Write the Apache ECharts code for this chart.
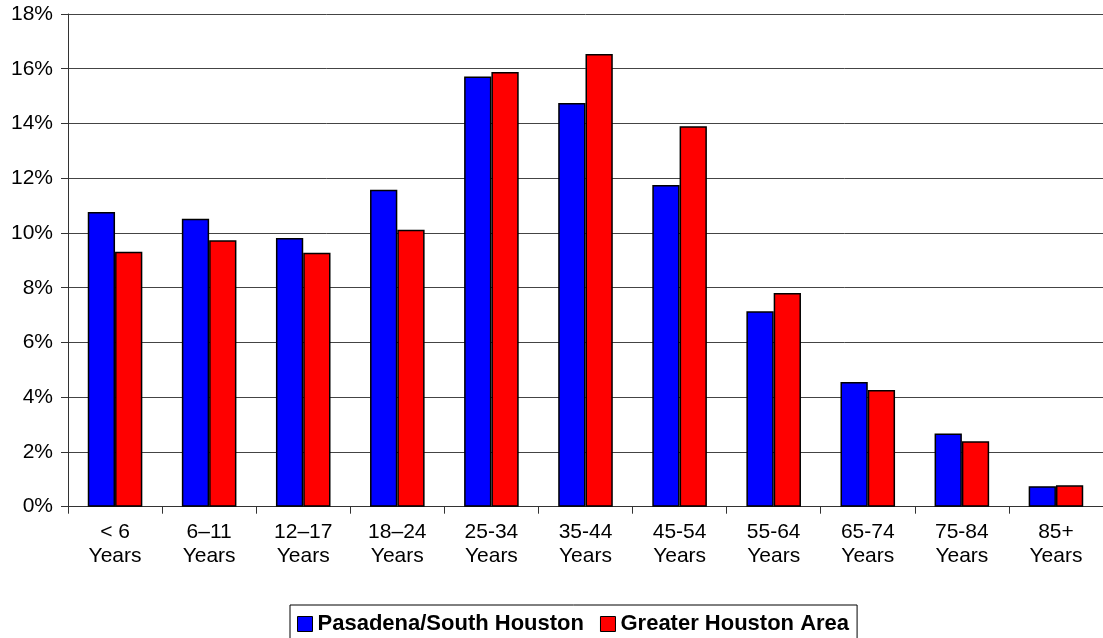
<!DOCTYPE html>
<html>
<head>
<meta charset="utf-8">
<script src="https://cdn.jsdelivr.net/npm/echarts@6/dist/echarts.min.js"></script>
<style>
html,body{margin:0;padding:0;background:#fff;}
#chart{width:1103px;height:638px;}
</style>
</head>
<body>
<div id="chart"></div>
<script>
var categories = ['< 6\nYears', '6\u201311\nYears', '12\u201317\nYears', '18\u201324\nYears', '25-34\nYears', '35-44\nYears', '45-54\nYears', '55-64\nYears', '65-74\nYears', '75-84\nYears', '85+\nYears'];
var seriesNames = ['Pasadena/South Houston', 'Greater Houston Area'];
var pasadena = [10.77, 10.52, 9.82, 11.58, 15.72, 14.75, 11.75, 7.14, 4.56, 2.67, 0.75];
var greater = [9.31, 9.73, 9.28, 10.12, 15.88, 16.54, 13.90, 7.81, 4.26, 2.39, 0.78];
var yTicks = {min: 0, max: 18, interval: 2};

var font = 'Liberation Sans, Arial, sans-serif';
var chart = echarts.init(document.getElementById('chart'), null, {renderer: 'canvas'});
chart.setOption({
  animation: false,
  backgroundColor: '#fff',
  grid: {left: 68, top: 14, width: 1042, height: 492.7, containLabel: false},
  legend: {
    data: seriesNames,
    left: 290,
    top: 605,
    orient: 'horizontal',
    icon: 'rect',
    itemWidth: 15,
    itemHeight: 15,
    itemGap: 16,
    borderColor: '#000',
    borderWidth: 1,
    padding: [8, 8, 20, 7],
    textStyle: {fontFamily: font, fontSize: 22, fontWeight: 'bold', color: '#000', lineHeight: 22},
    itemStyle: {borderColor: '#000', borderWidth: 1}
  },
  xAxis: {
    type: 'category',
    data: categories,
    axisLine: {show: true, lineStyle: {color: '#333', width: 1}},
    axisTick: {show: true, length: 7, lineStyle: {color: '#333'}},
    axisLabel: {fontFamily: font, fontSize: 21, color: '#000', margin: 14, lineHeight: 24, interval: 0},
    splitLine: {show: false}
  },
  yAxis: {
    type: 'value',
    min: yTicks.min,
    max: yTicks.max,
    interval: yTicks.interval,
    axisLine: {show: true, lineStyle: {color: '#333', width: 1}},
    axisTick: {show: true, inside: false, length: 7, lineStyle: {color: '#333'}},
    axisLabel: {fontFamily: font, fontSize: 21, color: '#000', margin: 15, formatter: '{value}%'},
    splitLine: {show: true, lineStyle: {color: '#444', width: 1}}
  },
  series: [
    {
      name: seriesNames[0],
      type: 'bar',
      data: pasadena,
      barGap: '0%',
      barCategoryGap: '42%',
      itemStyle: {color: '#0000FF', borderColor: '#000', borderWidth: 1.5}
    },
    {
      name: seriesNames[1],
      type: 'bar',
      data: greater,
      barGap: '0%',
      barCategoryGap: '42%',
      itemStyle: {color: '#FF0000', borderColor: '#000', borderWidth: 1.5}
    }
  ]
});
</script>
</body>
</html>
